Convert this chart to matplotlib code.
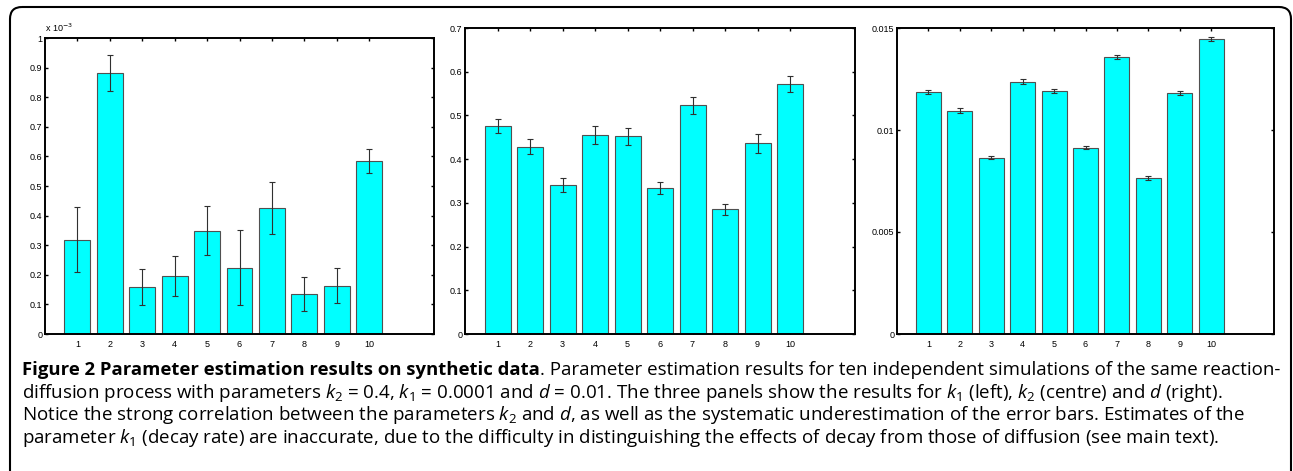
import numpy as np
import matplotlib
matplotlib.use("Agg")
import matplotlib.pyplot as plt
from matplotlib.patches import FancyBboxPatch
from matplotlib.ticker import FuncFormatter

plt.rcParams.update({
    'font.family': 'Liberation Sans',
    'mathtext.fontset': 'custom',
    'mathtext.rm': 'Open Sans',
    'mathtext.it': 'Open Sans:italic',
})

W, H = 1293, 471

runs = np.arange(1, 11)
tick_labels = [str(i) for i in runs]

# k1 (left), in units of 1e-3
k1_mean = [0.319, 0.882, 0.159, 0.196, 0.349, 0.224, 0.425, 0.136, 0.163, 0.584]
k1_err = [0.111, 0.061, 0.061, 0.068, 0.082, 0.126, 0.087, 0.058, 0.059, 0.040]

# k2 (centre)
k2_mean = [0.476, 0.428, 0.340, 0.455, 0.452, 0.334, 0.523, 0.285, 0.436, 0.572]
k2_err = [0.016, 0.017, 0.016, 0.021, 0.019, 0.014, 0.020, 0.012, 0.021, 0.018]

# d (right)
d_mean = [0.01187, 0.01095, 0.00865, 0.01237, 0.01192, 0.00914, 0.01358, 0.00766, 0.01182, 0.01446]
d_err = [0.00009, 0.00011, 0.00009, 0.00011, 0.00011, 0.00009, 0.00010, 0.00009, 0.00010, 0.00011]

caption_bold = "Figure 2 Parameter estimation results on synthetic data"
caption_lines = [
    ". Parameter estimation results for ten independent simulations of the same reaction-",
    "diffusion process with parameters $k_2$ = 0.4, $k_1$ = 0.0001 and $d$ = 0.01. The three panels show the results for $k_1$ (left), $k_2$ (centre) and $d$ (right).",
    "Notice the strong correlation between the parameters $k_2$ and $d$, as well as the systematic underestimation of the error bars. Estimates of the",
    "parameter $k_1$ (decay rate) are inaccurate, due to the difficulty in distinguishing the effects of decay from those of diffusion (see main text).",
]


def px_axes(fig, left, top, right, bottom):
    return fig.add_axes([left / W, 1 - bottom / H, (right - left) / W, (bottom - top) / H])


def bar_panel(ax, means, errs, ylim, yticks):
    ax.bar(runs, means, width=0.8, color='#00ffff', edgecolor='#505050', linewidth=0.8, zorder=2)
    ax.errorbar(runs, means, yerr=errs, fmt='none', ecolor='#303030',
                elinewidth=0.8, capsize=2.3, capthick=0.8, zorder=3)
    ax.set_xlim(0, 12)
    ax.set_ylim(*ylim)
    ax.set_xticks(runs)
    ax.set_xticklabels(tick_labels)
    ax.set_yticks(yticks)
    ax.yaxis.set_major_formatter(FuncFormatter(lambda v, p: f"{v:g}"))
    ax.tick_params(direction='in', top=True, right=True, length=2.5, width=1.0,
                   labelsize=6.5, colors='black')
    ax.tick_params(axis='x', pad=4)
    ax.tick_params(axis='y', pad=2)
    for s in ax.spines.values():
        s.set_linewidth(1.4)


fig = plt.figure(figsize=(W / 100, H / 100), dpi=100)

bg = fig.add_axes([0, 0, 1, 1], zorder=-1)
bg.set_xlim(0, W)
bg.set_ylim(H, 0)
bg.axis('off')
bg.add_patch(FancyBboxPatch((10, 7), 1281, 500, boxstyle="round,pad=0,rounding_size=12",
                            facecolor='none', edgecolor='black', linewidth=1.5))

ax1 = px_axes(fig, 45, 38, 434, 334)
bar_panel(ax1, k1_mean, k1_err, (0, 1), np.round(np.arange(0, 1.01, 0.1), 1))
ax1.text(0, 1.012, r'x 10$^{-3}$', transform=ax1.transAxes, ha='left', va='bottom',
         fontsize=6.5, math_fontfamily='dejavusans')

ax2 = px_axes(fig, 465, 28, 855, 334)
bar_panel(ax2, k2_mean, k2_err, (0, 0.7), np.round(np.arange(0, 0.71, 0.1), 1))

ax3 = px_axes(fig, 897, 28, 1274, 334)
bar_panel(ax3, d_mean, d_err, (0, 0.015), [0, 0.005, 0.01, 0.015])

# caption
fs_bold = 13.3
fs = 13.5
x0, y0, dy = 22, 375, 22.7
t = bg.text(x0, y0, caption_bold, fontsize=fs_bold, fontweight='bold', family='Open Sans',
            ha='left', va='baseline')
fig.canvas.draw()
bb = t.get_window_extent(renderer=fig.canvas.get_renderer())
x_after = bg.transData.inverted().transform((bb.x1, bb.y0))[0]
bg.text(x_after, y0, caption_lines[0], fontsize=fs, family='Open Sans', ha='left', va='baseline')
for i, line in enumerate(caption_lines[1:], start=1):
    bg.text(x0, y0 + i * dy, line, fontsize=fs, family='Open Sans', ha='left', va='baseline')

fig.savefig("out.png", dpi=100)
